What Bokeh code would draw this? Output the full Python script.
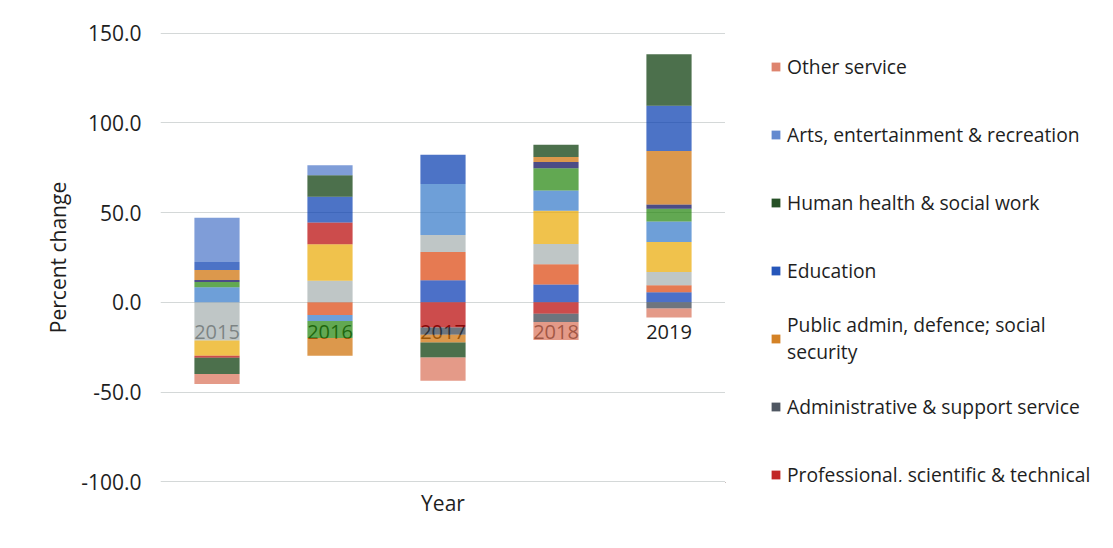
import numpy as np
from bokeh.plotting import figure
from bokeh.layouts import row
from bokeh.models import FactorRange, Range1d, Legend, LegendItem, PrintfTickFormatter, FixedTicker, Title
from bokeh.core.properties import value
from bokeh.embed import file_html
from bokeh.resources import INLINE

years = ["2015", "2016", "2017", "2018", "2019"]

series_names = [
    "Wholesale & retail",
    "Transport & storage",
    "Accommodation & food service",
    "Information & communication",
    "Financial & insurance",
    "Real estate",
    "Construction",
    "Professional, scientific & technical",
    "Administrative & support service",
    "Public admin, defence; social\nsecurity",
    "Education",
    "Human health & social work",
    "Arts, entertainment & recreation",
    "Other service",
]

wholesale      = [0.0,   0.0,  12.3,  10.0,   5.6]
transport      = [0.0,  -7.1,  15.7,  11.3,   4.0]
accommodation  = [-21.3, 12.1,  9.5,  11.2,   7.3]
information    = [-8.5,  20.3,  0.0,  18.6,  16.8]
financial      = [8.4,   -3.3, 28.5,  11.3,  11.3]
real_estate    = [3.0,   -9.4,  0.0,  12.4,   7.2]
construction   = [1.0,    0.0,  0.0,   3.4,   2.3]
professional   = [-1.1,  12.1, -14.0, -6.4,   0.0]
administrative = [0.0,    0.0,  -4.0, -4.5,  -3.4]
public_admin   = [5.6,   -9.9,  -4.4,  2.8,  29.8]
education      = [4.5,   14.3,  16.3,  0.0,  25.3]
human_health   = [-9.0,  12.1,  -8.4,  6.8,  28.7]
arts           = [24.7,   5.5,   0.0,  0.0,   0.0]
other_service  = [-5.6,   0.0, -12.9, -10.1, -5.0]

all_series = [wholesale, transport, accommodation, information, financial,
              real_estate, construction, professional, administrative,
              public_admin, education, human_health, arts, other_service]

# base colours (drawn at 70% opacity over white)
colors = ["#0033b0", "#db4108", "#a4aeae", "#eaa800", "#3176c7", "#1f8308",
          "#000052", "#b60000", "#303a47", "#cd6c00", "#0038ae", "#003300",
          "#4874c7", "#d86f55"]
BAR_ALPHA = 0.7

y_ticks = [-100, -50, 0, 50, 100, 150]

FONT = "Open Sans"
TXT = "#1e1e1e"

p = figure(width=725, height=548, x_range=FactorRange(*years, range_padding=0),
           y_range=Range1d(-100.4, 150.4), output_backend="svg",
           toolbar_location=None, min_border_left=160, min_border_right=0,
           min_border_top=32, min_border_bottom=66)
p.outline_line_color = None
p.background_fill_color = "white"
p.border_fill_color = "white"

# year labels at the zero line (drawn first, behind the semi-transparent bars)
p.text(x=years, y=[0] * len(years), text=years, text_align="center",
       text_baseline="top", y_offset=23, text_font=value(FONT),
       text_font_size="20px", text_color=TXT)

pos = np.zeros(len(years))
neg = np.zeros(len(years))
renderers = []
for vals, col in zip(all_series, colors):
    v = np.array(vals)
    bottom = np.where(v >= 0, pos, neg)
    top = bottom + v
    pos = np.where(v >= 0, top, pos)
    neg = np.where(v < 0, top, neg)
    r = p.vbar(x=years, bottom=bottom, top=top, width=0.4, fill_color=col,
               fill_alpha=BAR_ALPHA, line_color=None)
    renderers.append(r)

# axes
p.yaxis.ticker = FixedTicker(ticks=y_ticks)
p.yaxis.formatter = PrintfTickFormatter(format="%.1f")
p.yaxis.axis_line_color = None
p.yaxis.major_tick_line_color = None
p.yaxis.minor_tick_line_color = None
p.yaxis.major_label_standoff = 13
p.yaxis.major_label_text_font = FONT
p.yaxis.major_label_text_font_size = "21px"
p.yaxis.major_label_text_color = TXT
p.yaxis.axis_label = "Percent change"
p.yaxis.axis_label_text_font = FONT
p.yaxis.axis_label_text_font_size = "21px"
p.yaxis.axis_label_text_font_style = "normal"
p.yaxis.axis_label_text_color = TXT
p.yaxis.axis_label_standoff = 6

p.xaxis.visible = False
p.add_layout(Title(text="Year", align="center", text_font=FONT,
                   text_font_size="21px", text_font_style="normal",
                   text_color=TXT, standoff=9, offset=0), "below")

p.xgrid.grid_line_color = None
p.ygrid.grid_line_color = "#d4d8d8"
p.ygrid.grid_line_width = 1

# legend panel (separate figure on the right, same series colours;
# its proxy glyphs sit outside the visible range)
lg = figure(width=388, height=548, output_backend="svg", toolbar_location=None,
            min_border=0, x_range=(0, 1), y_range=(0, 1))
lg.axis.visible = False
lg.grid.visible = False
lg.outline_line_color = None
lg.background_fill_color = "white"
lg.border_fill_color = "white"

items = []
for idx in range(len(all_series) - 1, 6, -1):
    r = lg.vbar(x=[-10], bottom=[-10], top=[-9], width=0.4,
                fill_color=colors[idx], fill_alpha=BAR_ALPHA + 0.15,
                line_color=None)
    items.append(LegendItem(label=series_names[idx], renderers=[r]))

legend = Legend(items=items, location=(45, -19), orientation="vertical",
                label_text_font=FONT, label_text_font_size="19.3px",
                label_text_color=TXT, glyph_width=11, glyph_height=11,
                label_height=54, spacing=14, label_standoff=6, padding=0,
                margin=0, border_line_color=None, background_fill_alpha=0)
lg.add_layout(legend, "center")

layout = row(p, lg, spacing=0)
open("out.html", "w").write(file_html(layout, INLINE))
